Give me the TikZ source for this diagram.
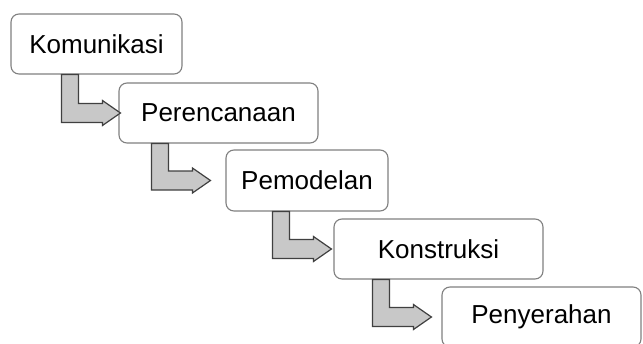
\documentclass[tikz,border=0pt]{standalone}
\usepackage{fontspec}
\setmainfont{Liberation Sans}
\usepackage{xcolor}
\usepackage{tikz}
\usetikzlibrary{calc}

\definecolor{garisKotak}{RGB}{128,128,128}
\definecolor{isiPanah}{RGB}{200,200,200}
\definecolor{garisPanah}{RGB}{64,64,64}

% panah bengkok: dari bawah kotak #1 ke kiri kotak #2, #3 = geser batang
\newcommand{\panahturun}[3]{%
  \draw[panah] let \p1=(#1.south west), \p2=(#2.west) in
    (\x1+#3pt,\y1) -- (\x1+#3pt+17pt,\y1) -- (\x1+#3pt+17pt,\y2+9.5pt)
    -- (\x1+#3pt+41pt,\y2+9.5pt) -- (\x1+#3pt+41pt,\y2+12.5pt)
    -- (\x1+#3pt+59pt,\y2) -- (\x1+#3pt+41pt,\y2-12.5pt)
    -- (\x1+#3pt+41pt,\y2-9.5pt) -- (\x1+#3pt,\y2-9.5pt) -- cycle;}

\begin{document}
\begin{tikzpicture}[x=1pt, y=-1pt,
    kotak/.style={draw=garisKotak, line width=1.1pt, fill=white, rounded corners=8pt,
        minimum height=60pt, inner sep=0pt, font=\fontsize{26}{31}\selectfont},
    panah/.style={draw=garisPanah, line width=1.2pt, fill=isiPanah, line join=miter}]
    \useasboundingbox (0,0) rectangle (643,343);

    % 1. Tahapan
    \node[kotak, minimum width=171pt] (komunikasi) at (96.5,44) {Komunikasi};
    \node[kotak, minimum width=199pt] (perencanaan) at (218.5,113) {Perencanaan};
    \node[kotak, minimum width=162pt, minimum height=61pt] (pemodelan) at (307,180.5) {Pemodelan};
    \node[kotak, minimum width=209pt] (konstruksi) at (438.5,249) {Konstruksi};
    \node[kotak, minimum width=199pt] (penyerahan) at (541.5,317) {Penyerahan};

    % 2. Panah antar tahapan
    \panahturun{komunikasi}{perencanaan}{51}
    \panahturun{perencanaan}{pemodelan}{33}
    \panahturun{pemodelan}{konstruksi}{47}
    \panahturun{konstruksi}{penyerahan}{39}
\end{tikzpicture}
\end{document}
